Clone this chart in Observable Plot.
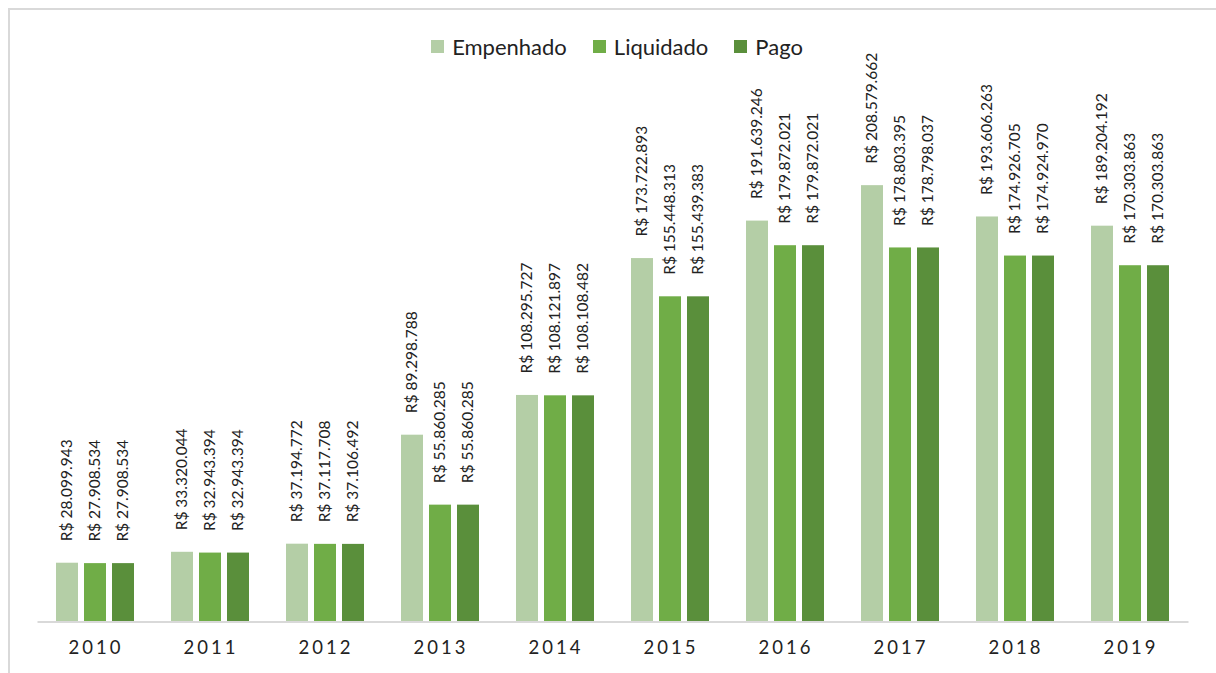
<!DOCTYPE html>
<html>
<head>
<meta charset="utf-8">
<script src="https://cdn.jsdelivr.net/npm/d3@7"></script>
<script src="https://cdn.jsdelivr.net/npm/@observablehq/plot@0.6"></script>
<style>
  html, body { margin: 0; padding: 0; background: #fff; width: 1216px; height: 673px; overflow: hidden; }
  #frame { position: absolute; left: 8px; top: 8px; width: 1300px; height: 700px; border: 2px solid #d9d9d9; box-sizing: border-box; }
  #legend { position: absolute; top: 34px; left: 9px; width: 1216px; height: 24px; display: flex; justify-content: center; align-items: center; font-family: Lato, sans-serif; font-size: 22px; color: #222; }
  #legend .item { display: flex; align-items: center; margin: 0 13px; }
  #legend .sw { width: 13px; height: 13px; margin-right: 8px; }
  #chart { position: absolute; left: 0; top: 60px; }
  #chart g[aria-label="fx-axis tick label"] text { letter-spacing: 3px; }
</style>
</head>
<body>
<div id="frame"></div>
<div id="legend"></div>
<div id="chart"></div>
<script>
const years = ["2010","2011","2012","2013","2014","2015","2016","2017","2018","2019"];
const series = ["Empenhado", "Liquidado", "Pago"];
const colors = ["#b4cea6", "#70ad47", "#5a8f3b"];
const empenhado = [28099943, 33320044, 37194772, 89298788, 108295727, 173722893, 191639246, 208579662, 193606263, 189204192];
const liquidado = [27908534, 32943394, 37117708, 55860285, 108121897, 155448313, 179872021, 178803395, 174926705, 170303863];
const pago      = [27908534, 32943394, 37106492, 55860285, 108108482, 155439383, 179872021, 178798037, 174924970, 170303863];

const values = [empenhado, liquidado, pago];
const data = [];
years.forEach((yr, i) => series.forEach((s, j) => data.push({year: yr, series: s, value: values[j][i]})));

const brl = d3.formatLocale({decimal: ",", thousands: ".", grouping: [3], currency: ["R$ ", ""]}).format("$,");

// legend
const legend = document.getElementById("legend");
series.forEach((s, j) => {
  const it = document.createElement("div");
  it.className = "item";
  it.innerHTML = `<div class="sw" style="background:${colors[j]}"></div><span>${s}</span>`;
  legend.appendChild(it);
});

const chart = Plot.plot({
  width: 1216,
  height: 613,
  marginLeft: 37,
  marginRight: 28,
  marginTop: 38.5,
  marginBottom: 51.5,
  style: {fontFamily: "Lato, sans-serif", overflow: "visible", color: "#222", background: "transparent"},
  fx: {domain: years, paddingInner: 0.3, paddingOuter: 0.15, label: null},
  x: {domain: series, paddingInner: 0.2, paddingOuter: 0, axis: null},
  y: {domain: [0, 250e6], axis: null},
  color: {domain: series, range: colors},
  marks: [
    Plot.barY(data, {fx: "year", x: "series", y: "value", fill: "series"}),
    Plot.ruleY(years, {fx: d => d, y: 0, stroke: "#d9d9d9", strokeWidth: 2, insetLeft: -17.5, insetRight: -17.5}),
    Plot.text(data, {fx: "year", x: "series", y: "value", text: d => brl(d.value), rotate: -90, textAnchor: "start", dy: -22, fontSize: 15.5, fill: "#222"}),
    Plot.axisFx({anchor: "bottom", tickSize: 0, tickPadding: 19, fontSize: 18.5, label: null})
  ]
});
document.getElementById("chart").appendChild(chart);
</script>
</body>
</html>
